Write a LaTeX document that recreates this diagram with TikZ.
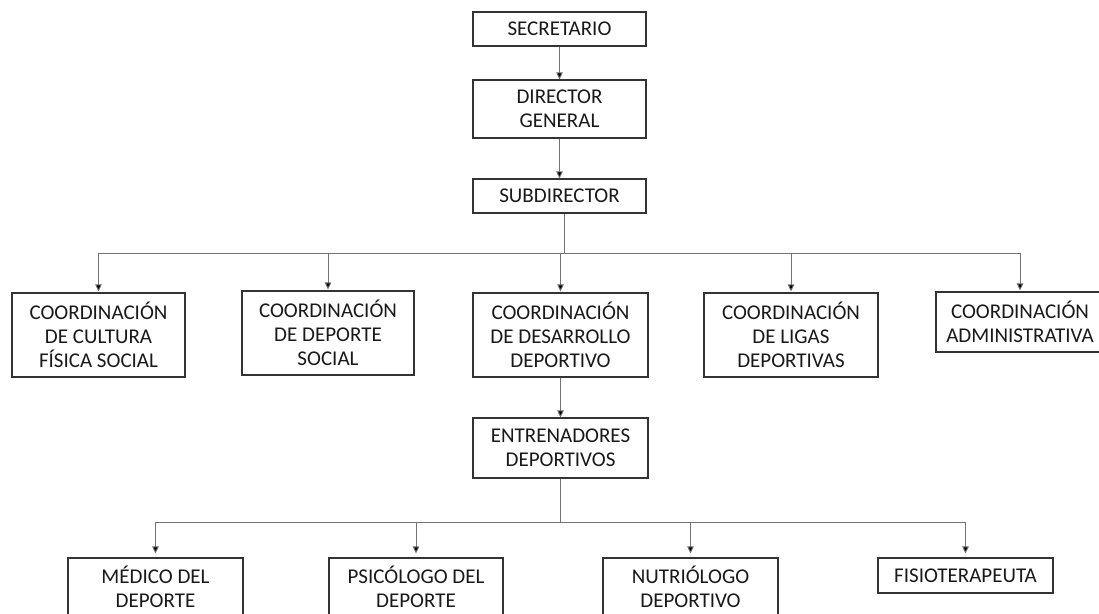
\documentclass[tikz,border=0pt]{standalone}
\usepackage{fontspec}
\setmainfont{Carlito}
\usetikzlibrary{arrows.meta}
\begin{document}
\begin{tikzpicture}[x=1pt,y=-1pt,
  box/.style={draw=black!80,line width=1.1pt,fill=white,align=center,inner sep=0pt,
    font=\fontsize{21}{24}\selectfont,text=black!90},
  link/.style={draw=black!55,line width=0.9pt},
  arr/.style={link,-{Triangle[length=7pt,width=6.5pt,fill=black]}}]
\useasboundingbox (0,0) rectangle (1099,613);

% top of the hierarchy
\node[box,minimum width=173pt,minimum height=34pt] (sec) at (559.5,29) {SECRETARIO};
\node[box,minimum width=173pt,minimum height=58pt] (dir) at (559.5,109) {DIRECTOR\\GENERAL};
\node[box,minimum width=173pt,minimum height=34pt] (sub) at (559.5,196) {SUBDIRECTOR};

% coordinations
\node[box,minimum width=173pt,minimum height=84pt] (c1) at (98.5,335) {COORDINACIÓN\\DE CULTURA\\FÍSICA SOCIAL};
\node[box,minimum width=172pt,minimum height=84pt] (c2) at (328,333) {COORDINACIÓN\\DE DEPORTE\\SOCIAL};
\node[box,minimum width=175pt,minimum height=84pt] (c3) at (560.5,335) {COORDINACIÓN\\DE DESARROLLO\\DEPORTIVO};
\node[box,minimum width=174pt,minimum height=84pt] (c4) at (791,335) {COORDINACIÓN\\DE LIGAS\\DEPORTIVAS};
\node[box,minimum width=168pt,minimum height=60pt] (c5) at (1020,322) {COORDINACIÓN\\ADMINISTRATIVA};

% coaches and support staff
\node[box,minimum width=175pt,minimum height=60pt] (ent) at (560.5,448) {ENTRENADORES\\DEPORTIVOS};
\node[box,minimum width=175pt,minimum height=58pt] (med) at (155.5,587) {MÉDICO DEL\\DEPORTE};
\node[box,minimum width=174pt,minimum height=58pt] (psi) at (416,587) {PSICÓLOGO DEL\\DEPORTE};
\node[box,minimum width=175pt,minimum height=58pt] (nut) at (690.5,587) {NUTRIÓLOGO\\DEPORTIVO};
\node[box,minimum width=175pt,minimum height=35pt] (fis) at (965.5,575.5) {FISIOTERAPEUTA};

% bus lines
\coordinate (bus1) at (564,253);
\coordinate (bus2) at (560.5,522);

\draw[arr] (sec) -- (dir);
\draw[arr] (dir) -- (sub);
\draw[link] (sub.south -| bus1) -- (bus1);
\draw[link] (c1.north |- bus1) -- (c5.north |- bus1);
\foreach \n in {c1,c2,c3,c4,c5}
  \draw[arr] (\n.north |- bus1) -- ([yshift=1pt]\n.north);

\draw[arr] (c3) -- (ent);
\draw[link] (ent.south) -- (bus2);
\draw[link] (med.north |- bus2) -- (fis.north |- bus2);
\foreach \n in {med,psi,nut,fis}
  \draw[arr] (\n.north |- bus2) -- ([yshift=4pt]\n.north);
\end{tikzpicture}
\end{document}
